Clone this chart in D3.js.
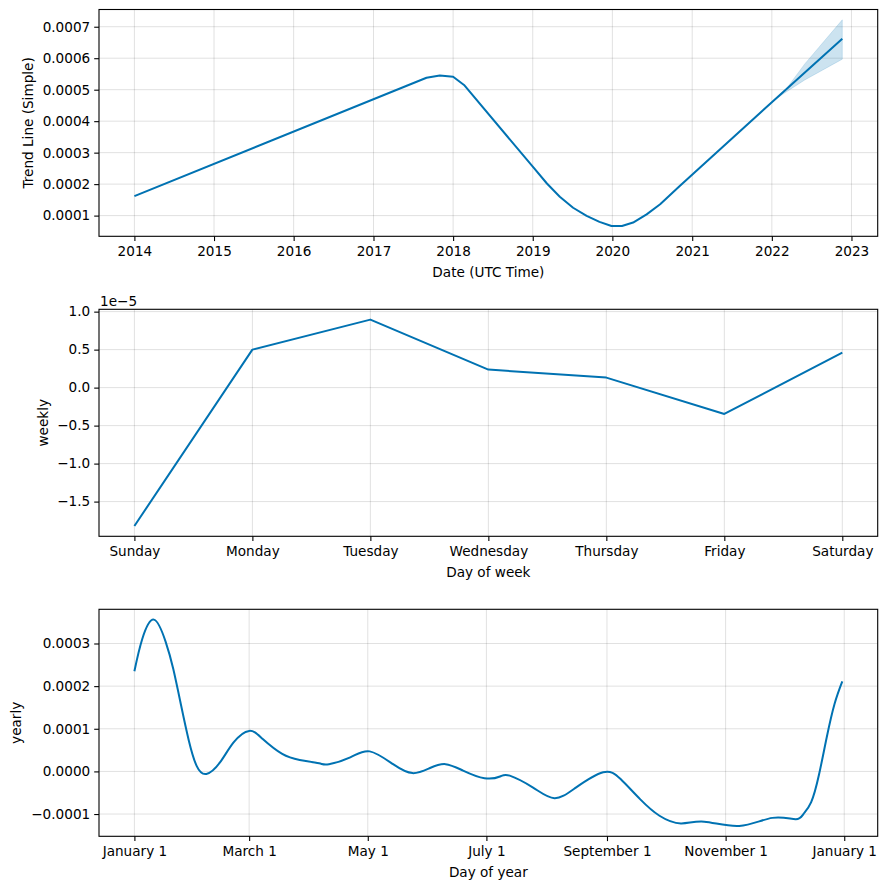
<!DOCTYPE html>
<html>
<head>
<meta charset="utf-8">
<script src="https://cdn.jsdelivr.net/npm/d3@7"></script>
<style>
  body { margin: 0; background: #fff; }
  svg, svg text { font-family: "DejaVu Sans", sans-serif; }
  .tick text { font-size: 13.6px; fill: #000; font-family: "DejaVu Sans", sans-serif; }
  .grid line { stroke: #000; stroke-opacity: 0.12; }
</style>
</head>
<body>
<svg id="chart"></svg>
<script>
var width = 886;
var height = 889;

// trend component (date, value)
var trendDates = ["2014-01-01", "2017-09-01", "2017-11-01", "2018-01-01", "2018-02-20",
  "2019-01-04", "2019-03-07", "2019-05-05", "2019-07-05", "2019-09-05", "2019-11-03", "2019-12-28",
  "2020-02-14", "2020-04-05", "2020-06-06", "2020-08-07", "2020-11-06", "2022-01-01", "2022-11-20"];
var trendValues = [0.000162, 0.000538, 0.000545, 0.000541, 0.000515,
  0.000253, 0.000202, 0.000160, 0.000125, 0.000099, 0.000080, 0.000067,
  0.000067, 0.000078, 0.000104, 0.000136, 0.000195, 0.00046, 0.000662];
// forecast uncertainty of the trend
var bandDates = ["2022-01-01", "2022-02-25", "2022-06-01", "2022-11-20"];
var bandLower = [0.00046, 0.000488, 0.000531, 0.000597];
var bandUpper = [0.00046, 0.000492, 0.000582, 0.000722];
var yearTicks = ["2014", "2015", "2016", "2017", "2018", "2019", "2020", "2021", "2022", "2023"];

// weekly component (units of 1e-5)
var weekDays = ["Sunday", "Monday", "Tuesday", "Wednesday", "Thursday", "Friday", "Saturday"];
var weeklyValues = [-1.821, 0.5, 0.895, 0.237, 0.132, -0.347, 0.46];

// yearly component (day of year, value in 1e-4)
var yearDays = [0, 4, 10, 16, 20, 24, 28, 32, 37, 44, 51, 59, 66, 76, 85, 95, 100, 111, 121, 133, 143,
  152, 160, 169, 180, 188, 193, 205, 216, 227, 241, 250, 260, 270, 281, 293, 311, 328, 340, 344,
  348, 352, 356, 360, 364];
var yearlyValues = [2.35, 3.1, 3.56, 3.05, 2.4, 1.55, 0.72, 0.13, -0.06, 0.21, 0.68, 0.95, 0.76, 0.41,
  0.27, 0.19, 0.17, 0.33, 0.47, 0.17, -0.04, 0.08, 0.17, 0.02, -0.16, -0.12, -0.10, -0.38, -0.63, -0.38,
  -0.02, -0.18, -0.65, -1.04, -1.22, -1.18, -1.28, -1.09, -1.12, -1.0, -0.72, -0.08, 0.8, 1.58, 2.11];
var yearlyTickDays = [0, 59, 120, 181, 243, 304, 365];
var yearlyTickLabels = ["January 1", "March 1", "May 1", "July 1", "September 1", "November 1", "January 1"];

var blue = "#0072B2";
var minus = function(s) { return s.replace("-", "\u2212"); };

var svg = d3.select("#chart").attr("width", width).attr("height", height);

var left = 99, right = 877.7;
var panels = [{top: 9.5, bottom: 236.3}, {top: 309.3, bottom: 536.3}, {top: 609.3, bottom: 836.3}];

function pad(ext) { // matplotlib style 5% margins
  var m = (ext[1] - ext[0]) * 0.05;
  return [ext[0] - m, ext[1] + m];
}

function drawFrame(g, p, x, y, xTicks, xFormat, yTicks, yFormat, xlabel, ylabel, ylabelX) {
  var h = p.bottom - p.top;
  g.append("g").attr("class", "grid").selectAll("line").data(xTicks).enter().append("line")
    .attr("x1", function(d) { return x(d); }).attr("x2", function(d) { return x(d); })
    .attr("y1", 0).attr("y2", h);
  g.append("g").attr("class", "grid").selectAll("line").data(yTicks).enter().append("line")
    .attr("y1", function(d) { return y(d); }).attr("y2", function(d) { return y(d); })
    .attr("x1", 0).attr("x2", right - left);

  var xa = g.append("g").attr("transform", "translate(0," + h + ")")
    .call(d3.axisBottom(x).tickValues(xTicks).tickFormat(xFormat).tickSize(4.8).tickPadding(5.5));
  var ya = g.append("g")
    .call(d3.axisLeft(y).tickValues(yTicks).tickFormat(yFormat).tickSize(4.8).tickPadding(4));
  [xa, ya].forEach(function(a) {
    a.attr("font-family", null).attr("font-size", null);
    a.select(".domain").remove();
    a.selectAll(".tick line").attr("stroke", "#000").attr("stroke-width", 1.1);
  });

  g.append("text").attr("x", (right - left) / 2).attr("y", h + 41).attr("text-anchor", "middle")
    .attr("font-size", "13.6px").text(xlabel);
  g.append("text").attr("transform", "translate(" + (ylabelX - left) + "," + h / 2 + ") rotate(-90)")
    .attr("text-anchor", "middle").attr("dy", "0.35em").attr("font-size", "13.6px").text(ylabel);
}

function drawBox(g, p) {
  g.append("rect").attr("x", 0).attr("y", 0).attr("width", right - left).attr("height", p.bottom - p.top)
    .attr("fill", "none").attr("stroke", "#000").attr("stroke-width", 1.1);
}

// ---- panel 1: trend
(function() {
  var p = panels[0];
  var g = svg.append("g").attr("transform", "translate(" + left + "," + p.top + ")");
  var parse = d3.utcParse("%Y-%m-%d");
  var tDates = trendDates.map(parse);
  var bDates = bandDates.map(parse);
  var tExt = d3.extent(tDates).map(function(d) { return +d; });
  var x = d3.scaleUtc().domain(pad(tExt)).range([0, right - left]);
  var y = d3.scaleLinear()
    .domain(pad([d3.min(trendValues.concat(bandLower)), d3.max(trendValues.concat(bandUpper))]))
    .range([p.bottom - p.top, 0]);
  var xTicks = yearTicks.map(function(s) { return parse(s + "-01-01"); });
  drawFrame(g, p, x, y, xTicks, d3.utcFormat("%Y"), [0.0001, 0.0002, 0.0003, 0.0004, 0.0005, 0.0006, 0.0007],
    d3.format(".4f"), "Date (UTC Time)", "Trend Line (Simple)", 28.3);

  var band = bandDates.map(function(d, i) { return {d: bDates[i], lo: bandLower[i], hi: bandUpper[i]}; });
  g.append("path").datum(band)
    .attr("fill", blue).attr("fill-opacity", 0.2).attr("stroke", blue).attr("stroke-opacity", 0.15)
    .attr("d", d3.area().x(function(d) { return x(d.d); })
      .y0(function(d) { return y(d.lo); }).y1(function(d) { return y(d.hi); }));
  g.append("path").datum(tDates.map(function(d, i) { return [d, trendValues[i]]; }))
    .attr("fill", "none").attr("stroke", blue).attr("stroke-width", 2).attr("stroke-linejoin", "round")
    .attr("d", d3.line().x(function(d) { return x(d[0]); }).y(function(d) { return y(d[1]); }));
  drawBox(g, p);
})();

// ---- panel 2: weekly
(function() {
  var p = panels[1];
  var g = svg.append("g").attr("transform", "translate(" + left + "," + p.top + ")");
  var x = d3.scaleLinear().domain(pad([0, 6])).range([0, right - left]);
  var y = d3.scaleLinear().domain(pad(d3.extent(weeklyValues))).range([p.bottom - p.top, 0]);
  drawFrame(g, p, x, y, d3.range(7), function(i) { return weekDays[i]; },
    [-1.5, -1.0, -0.5, 0.0, 0.5, 1.0], function(v) { return minus(d3.format(".1f")(v)); },
    "Day of week", "weekly", 43.3);
  g.append("text").attr("x", 1).attr("y", -3).attr("font-size", "13.6px").text("1e\u22125");
  g.append("path").datum(weeklyValues)
    .attr("fill", "none").attr("stroke", blue).attr("stroke-width", 2).attr("stroke-linejoin", "round")
    .attr("d", d3.line().x(function(d, i) { return x(i); }).y(function(d) { return y(d); }));
  drawBox(g, p);
})();

// ---- panel 3: yearly
(function() {
  var p = panels[2];
  var g = svg.append("g").attr("transform", "translate(" + left + "," + p.top + ")");
  var vals = yearlyValues.map(function(v) { return v * 1e-4; });
  var x = d3.scaleLinear().domain(pad(d3.extent(yearDays))).range([0, right - left]);
  var y = d3.scaleLinear().domain(pad(d3.extent(vals))).range([p.bottom - p.top, 0]);
  drawFrame(g, p, x, y, yearlyTickDays, function(d, i) { return yearlyTickLabels[i]; },
    [-0.0001, 0.0, 0.0001, 0.0002, 0.0003], function(v) { return minus(d3.format(".4f")(v)); },
    "Day of year", "yearly", 16);
  g.append("path").datum(yearDays.map(function(d, i) { return [d, vals[i]]; }))
    .attr("fill", "none").attr("stroke", blue).attr("stroke-width", 2).attr("stroke-linejoin", "round")
    .attr("d", d3.line().curve(d3.curveNatural)
      .x(function(d) { return x(d[0]); }).y(function(d) { return y(d[1]); }));
  drawBox(g, p);
})();
</script>
</body>
</html>
